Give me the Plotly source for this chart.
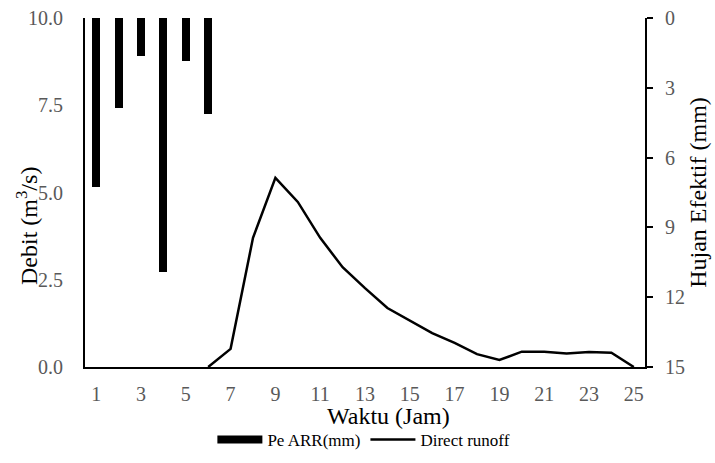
import plotly.graph_objects as go

hours = list(range(1, 26))
rain_hours = [1, 2, 3, 4, 5, 6]
pe_arr = [7.25, 3.85, 1.63, 10.9, 1.85, 4.12]
runoff_hours = list(range(6, 26))
direct_runoff = [0.0, 0.52, 3.70, 5.42, 4.73, 3.70, 2.86, 2.26, 1.69, 1.32,
                 0.97, 0.69, 0.37, 0.20, 0.44, 0.44, 0.39, 0.43, 0.41, 0.0]
x_ticks = list(range(1, 26, 2))
left_ticks = [0, 2.5, 5, 7.5, 10]
right_ticks = [0, 3, 6, 9, 12, 15]

font_family = "Liberation Serif"
tick_color = "#595959"
tick_size = 20
title_size = 24

fig = go.Figure()
fig.add_trace(go.Bar(
    x=rain_hours, y=pe_arr, name="Pe ARR(mm)", yaxis="y2", showlegend=False,
    marker=dict(color="black", line=dict(width=0)), width=0.36,
))
# legend proxy for the bar series (wide rectangle swatch)
fig.add_trace(go.Scatter(
    x=[None], y=[None], name="Pe ARR(mm)", mode="lines",
    line=dict(color="black", width=8), yaxis="y2",
))
fig.add_trace(go.Scatter(
    x=runoff_hours, y=direct_runoff, name="Direct runoff", mode="lines",
    line=dict(color="black", width=2.5), yaxis="y",
))

title_font = dict(size=title_size, family=font_family, color="black")

fig.update_layout(
    width=715, height=463,
    margin=dict(l=85, r=70, t=18, b=96, autoexpand=False),
    plot_bgcolor="white", paper_bgcolor="white",
    font=dict(family=font_family, color="black"),
    showlegend=True,
    legend=dict(orientation="h", x=0.498, xanchor="center", yref="container", y=0.05, yanchor="middle",
                font=dict(size=17, family=font_family, color="black"),
                traceorder="normal", itemwidth=45, tracegroupgap=0),
    xaxis=dict(
        range=[0.5, 25.5], tickvals=x_ticks, showgrid=False, zeroline=False,
        showline=True, linecolor="black", linewidth=2, ticks="",
        ticklabelstandoff=8,
        tickfont=dict(size=tick_size, color=tick_color, family=font_family),
    ),
    yaxis=dict(
        range=[0, 10], tickvals=left_ticks, tickformat=".1f", showgrid=False, zeroline=False,
        showline=True, linecolor="black", linewidth=2, ticks="",
        ticklabelstandoff=16,
        tickfont=dict(size=tick_size, color=tick_color, family=font_family),
    ),
    yaxis2=dict(
        range=[15, 0], tickvals=right_ticks, overlaying="y", side="right",
        showgrid=False, zeroline=False, showline=True, linecolor="black", linewidth=2,
        ticks="outside", ticklen=6, tickcolor="black", tickwidth=1.5,
        ticklabelstandoff=8,
        tickfont=dict(size=tick_size, color=tick_color, family=font_family),
        title=dict(text="Hujan Efektif (mm)", font=title_font, standoff=2),
    ),
    annotations=[
        dict(text="Waktu (Jam)", xref="paper", yref="paper", x=(388 - 85) / 560, y=0,
             yshift=-49, xanchor="center", yanchor="middle", showarrow=False, font=title_font),
        dict(text="Debit (m<sup>3</sup>/s)", xref="paper", yref="paper", x=0, xshift=-58,
             y=(367 - 226) / 349, xanchor="center", yanchor="middle", textangle=-90,
             showarrow=False, font=title_font),
    ],
    bargap=0,
)

fig.write_html("out.html")
